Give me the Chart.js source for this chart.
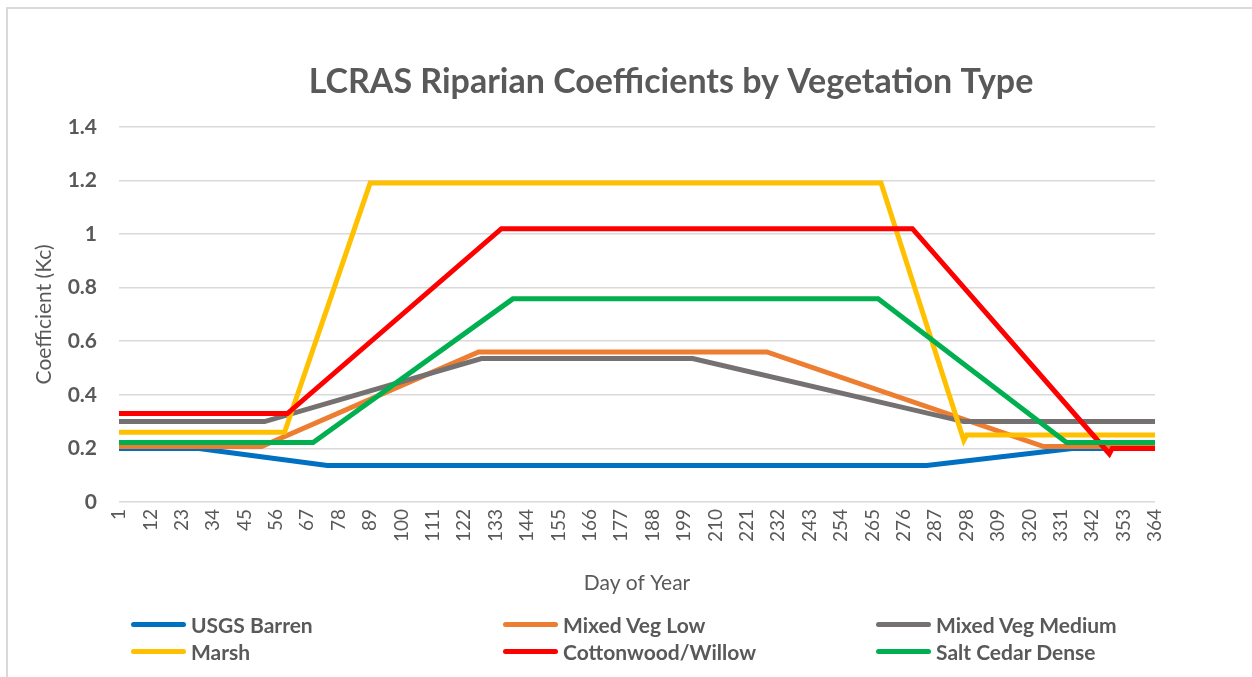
<!DOCTYPE html>
<html>
<head>
<meta charset="utf-8">
<script src="https://cdn.jsdelivr.net/npm/chart.js@4.4.1/dist/chart.umd.min.js"></script>
<style>
  html, body { margin: 0; padding: 0; background: #fff; overflow: hidden; width: 1252px; height: 677px; }
  #frame { position: absolute; left: 6px; top: 7px; width: 1400px; height: 800px; border: 2px solid #d9d9d9; }
  #myChart { position: absolute; left: 0; top: 0; }
  #legend { position: absolute; left: 0; top: 0; font-family: Lato; font-weight: bold; font-size: 21px; color: #595959; }
  .item { position: absolute; height: 26px; display: flex; align-items: center; white-space: nowrap; }
  .swatch { display: inline-block; width: 55px; height: 5px; border-radius: 3px; margin-right: 5px; }
</style>
</head>
<body>
<div id="frame"></div>
<canvas id="myChart" width="1342" height="677"></canvas>
<div id="legend"></div>
<script>
var chartTitle = 'LCRAS Riparian Coefficients by Vegetation Type';
var xTitle = 'Day of Year',
    yTitle = 'Coefficient (Kc)';

var xTickDays = [1, 12, 23, 34, 45, 56, 67, 78, 89, 100, 111, 122, 133, 144, 155, 166, 177,
                 188, 199, 210, 221, 232, 243, 254, 265, 276, 287, 298, 309, 320, 331, 342, 353, 364];
var yTickLabels = ['0', '0.2', '0.4', '0.6', '0.8', '1', '1.2', '1.4'];

var seriesNames = ['USGS Barren', 'Mixed Veg Low', 'Mixed Veg Medium', 'Marsh', 'Cottonwood/Willow', 'Salt Cedar Dense'];
var seriesColors = ['#0070C0', '#ED7D31', '#767171', '#FFC000', '#FF0000', '#00B050'];

// breakpoints (day of year, Kc)
var barrenDays = [1, 29, 74, 284, 335, 364],
    barrenKc   = [0.2, 0.2, 0.136, 0.136, 0.2, 0.2];
var lowDays = [1, 51, 127, 228, 325, 364],
    lowKc   = [0.207, 0.207, 0.56, 0.56, 0.207, 0.207];
var mediumDays = [1, 52, 128, 202, 297, 364],
    mediumKc   = [0.3, 0.3, 0.535, 0.535, 0.3, 0.3];
var marshDays = [1, 59, 89, 268, 297, 298, 364],
    marshKc   = [0.26, 0.26, 1.19, 1.19, 0.23, 0.25, 0.25];
var cottonDays = [1, 60, 135, 279, 348, 349, 364],
    cottonKc   = [0.33, 0.33, 1.02, 1.02, 0.18, 0.2, 0.2];
var cedarDays = [1, 69, 139, 267, 333, 364],
    cedarKc   = [0.222, 0.222, 0.758, 0.758, 0.222, 0.222];

var allDays = [barrenDays, lowDays, mediumDays, marshDays, cottonDays, cedarDays],
    allKc = [barrenKc, lowKc, mediumKc, marshKc, cottonKc, cedarKc];

var textColor = '#595959',
    gridColor = '#d9d9d9';

function toPoints(days, kc) {
  var pts = [];
  for (var i = 0; i < days.length; i++) {
    pts.push({x: days[i], y: kc[i]});
  }
  return pts;
}

var datasets = [];
for (var s = 0; s < seriesNames.length; s++) {
  datasets.push({
    label: seriesNames[s],
    data: toPoints(allDays[s], allKc[s]),
    borderColor: seriesColors[s],
    backgroundColor: seriesColors[s],
    borderWidth: 5,
    borderCapStyle: 'round',
    borderJoinStyle: 'miter',
    pointRadius: 0,
    tension: 0,
    // later series on top, like the spreadsheet
    order: seriesNames.length - s
  });
}

function renderChart() {
  var ctx = document.getElementById('myChart').getContext('2d');
  var myChart = new Chart(ctx, {
    type: 'line',
    data: { datasets: datasets },
    options: {
      responsive: false,
      animation: false,
      layout: { padding: 0 },
      plugins: {
        legend: { display: false },
        tooltip: { enabled: false },
        title: {
          display: true,
          text: chartTitle,
          color: textColor,
          font: { family: 'Lato', size: 34, weight: 'bold' },
          padding: { top: 62, bottom: 24 }
        }
      },
      scales: {
        x: {
          type: 'linear',
          min: 1,
          max: 364,
          afterBuildTicks: function(axis) {
            axis.ticks = xTickDays.map(function(d) { return {value: d}; });
          },
          afterFit: function(scale) { scale.height = 175; },
          grid: { display: false, drawTicks: false },
          border: { display: false },
          ticks: {
            autoSkip: false,
            maxRotation: 90,
            minRotation: 90,
            padding: 7,
            color: textColor,
            font: { family: 'Lato', size: 19 }
          },
          title: {
            display: true,
            text: xTitle,
            color: textColor,
            font: { family: 'Lato', size: 21 },
            padding: { top: 0, bottom: 81 }
          }
        },
        y: {
          min: 0,
          max: 1.4,
          afterFit: function(scale) { scale.width = 119; },
          grid: { color: gridColor, lineWidth: 1.5, drawTicks: false },
          border: { display: false },
          ticks: {
            stepSize: 0.2,
            padding: 22,
            color: textColor,
            font: { family: 'Lato', size: 21, weight: 'bold' },
            callback: function(value, index) { return yTickLabels[index]; }
          },
          title: {
            display: true,
            text: yTitle,
            color: textColor,
            font: { family: 'Lato', size: 21 },
            padding: { top: 32, bottom: 0 }
          }
        },
        // empty strip on the right so the title centres over the whole frame
        spacer: {
          position: 'right',
          afterFit: function(scale) { scale.width = 187; },
          grid: { display: false },
          border: { display: false },
          ticks: { display: false }
        }
      }
    }
  });
  return myChart;
}

function buildLegend() {
  var colX = [131, 503, 876],
      rowY = [624, 651];
  var legend = document.getElementById('legend');
  for (var i = 0; i < seriesNames.length; i++) {
    var item = document.createElement('div');
    item.className = 'item';
    item.style.left = colX[i % 3] + 'px';
    item.style.top = (rowY[Math.floor(i / 3)] - 13) + 'px';
    var sw = document.createElement('span');
    sw.className = 'swatch';
    sw.style.background = seriesColors[i];
    item.appendChild(sw);
    item.appendChild(document.createTextNode(seriesNames[i]));
    legend.appendChild(item);
  }
}

renderChart();
buildLegend();
</script>
</body>
</html>
